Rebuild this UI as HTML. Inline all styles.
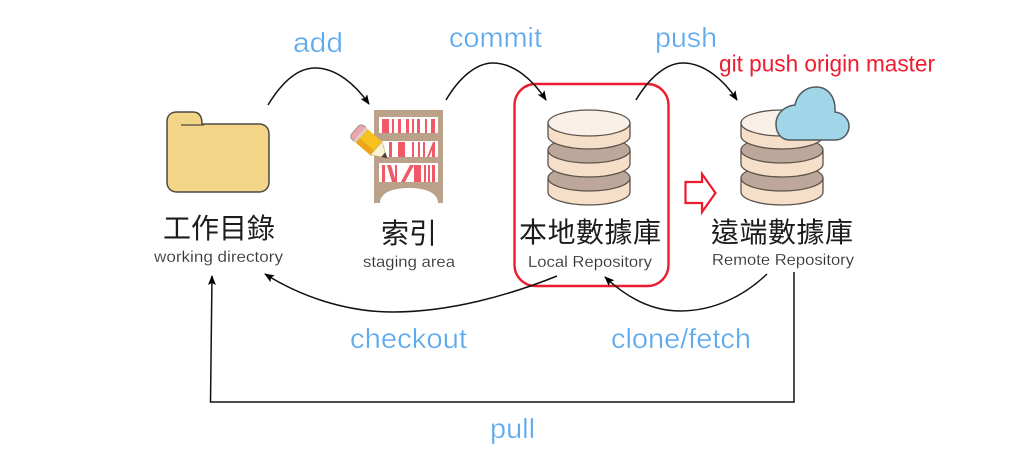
<!DOCTYPE html>
<html><head><meta charset="utf-8">
<style>
html,body{margin:0;padding:0;background:#fff;width:1024px;height:474px;overflow:hidden}
svg{display:block;filter:blur(.35px)}
.b{font-family:"Liberation Sans",sans-serif;font-size:28px;fill:#5eaaee;stroke:#fff;stroke-width:.35px}
.c{font-family:"Liberation Sans","Noto Sans CJK TC",sans-serif;font-size:28px;fill:#1c1c1c}
.s{font-family:"Liberation Sans",sans-serif;font-size:16px;fill:#333;stroke:#fff;stroke-width:.15px}
</style></head><body>
<svg width="1024" height="474" viewBox="0 0 1024 474" xmlns="http://www.w3.org/2000/svg">
<defs>
<marker id="a" markerWidth="12" markerHeight="10" refX="9" refY="4" orient="auto" markerUnits="userSpaceOnUse"><path d="M0 0L10 4L0 8L2 4Z" fill="#000"/></marker>
<g id="db" stroke="#5c524b" stroke-width="1.3">
<path d="M0 70V83C0 90 18 96 41 96S82 90 82 83V70Z" fill="#f5dfc9"/>
<ellipse cx="41" cy="69" rx="41" ry="13" fill="#bda79b"/>
<path d="M0 42V55C0 62 18 68 41 68S82 62 82 55V42Z" fill="#f5dfc9"/>
<ellipse cx="41" cy="41" rx="41" ry="13" fill="#bda79b"/>
<path d="M0 14V27C0 34 18 40 41 40S82 34 82 27V14Z" fill="#f5dfc9"/>
<ellipse cx="41" cy="14" rx="41" ry="13" fill="#f9f0e8"/>
</g>
</defs>

<!-- folder -->
<path d="M167 122C167 115 171 112 177 112H193C199 112 202 116 202 124H259C265 124 269 128 269 134V182C269 188 265 192 259 192H177C171 192 167 188 167 182Z" fill="#f3d587" stroke="#4e4a42" stroke-width="1.5"/>
<path d="M181 125H204" stroke="#4e4a42" stroke-width="1.3" fill="none"/>

<!-- bookshelf -->
<path d="M374 110H443V203H438C438 193 426 188 409 188C392 188 380 193 380 203H374Z" fill="#bba08a"/>
<rect x="379" y="117" width="59" height="16" fill="#fff"/>
<rect x="379" y="141" width="59" height="16" fill="#fff"/>
<rect x="379" y="163" width="59" height="19" fill="#fff"/>
<g fill="#ef5a66">
<rect x="382" y="119" width="7" height="14"/><rect x="392" y="119" width="2" height="14"/><rect x="398" y="119" width="3" height="14"/><rect x="406" y="119" width="3" height="14"/><rect x="412" y="119" width="2" height="14"/><rect x="417" y="119" width="3" height="14"/><rect x="425" y="119" width="2" height="14"/><rect x="431" y="119" width="4" height="14"/>
<rect x="389" y="142" width="3" height="15"/><rect x="398" y="142" width="7" height="15"/><rect x="412" y="142" width="2" height="15"/><rect x="418" y="142" width="2" height="15"/><rect x="423" y="142" width="2" height="15"/><path d="M427 157L433 142H435V157H432V150L429 157Z"/>
<rect x="382" y="165" width="3" height="17"/><path d="M387 165H391L396 182H392Z"/><rect x="395" y="165" width="2" height="17"/><path d="M401 182L410 165H414L405 182Z"/><rect x="414" y="165" width="7" height="17"/><rect x="424" y="165" width="2" height="17"/><rect x="428" y="165" width="2" height="17"/><rect x="432" y="165" width="3" height="17"/>
</g>
<!-- pencil -->
<g transform="translate(355 130) rotate(41)">
<rect x="0" y="-9" width="10" height="18" rx="4" fill="#eda3a9" stroke="#9f9595" stroke-width="1"/>
<rect x="6" y="-9" width="3" height="18" fill="#d8cfc8"/>
<rect x="9" y="-9" width="19" height="18" fill="#f7c21e"/>
<rect x="9" y="3" width="19" height="6" fill="#eda51a"/>
<path d="M28 -9L42 0L28 9Z" fill="#faf2d2" stroke="#bba66a" stroke-width=".6"/>
<path d="M37.500 -3L43 0L37.500 3Z" fill="#4a3a33"/>
</g>

<!-- databases -->
<use href="#db" x="548" y="109"/>
<use href="#db" x="741" y="109"/>

<!-- cloud -->
<path d="M790 140C781 140 776 133 776 124C776 114 784 106 795 105C797 94 806 87 816 87C828 87 836 97 835 112C843 113 849 119 849 126C849 134 843 140 835 140Z" fill="#a1d6e9" stroke="#4e5a5f" stroke-width="1.5"/>

<!-- red highlight -->
<rect x="514.500" y="84" width="154" height="202" rx="21" fill="none" stroke="#ec1c2e" stroke-width="2.4"/>
<path d="M685.500 182H702V174L715.500 193L702 212V203H685.500Z" fill="#fff" stroke="#ec1c2e" stroke-width="2.2"/>

<!-- connectors -->
<g fill="none" stroke="#111" stroke-width="1.5">
<path d="M268 105C282 82 298 68 315 68C336 68 355 84 369 104" marker-end="url(#a)"/>
<path d="M446 100C459 78 476 63 493 63C514 63 533 80 546 100" marker-end="url(#a)"/>
<path d="M636 100C649 78 666 63 683 63C704 63 724 80 737 100" marker-end="url(#a)"/>
<path d="M557 276C510 295 450 312 393 312C345 312 300 296 265 274" marker-end="url(#a)"/>
<path d="M767 274C745 295 715 311 680 311C650 311 625 296 605 277" marker-end="url(#a)"/>
<path d="M794 272V402H210.500L212 276" marker-end="url(#a)"/>
</g>

<!-- blue labels -->
<text class="b" x="293" y="52" textLength="50" lengthAdjust="spacingAndGlyphs">add</text>
<text class="b" x="449" y="47" textLength="93" lengthAdjust="spacingAndGlyphs">commit</text>
<text class="b" x="655" y="47" textLength="62" lengthAdjust="spacingAndGlyphs">push</text>
<text class="b" x="350" y="348" textLength="117" lengthAdjust="spacingAndGlyphs">checkout</text>
<text class="b" x="611" y="348" textLength="140" lengthAdjust="spacingAndGlyphs">clone/fetch</text>
<text class="b" x="490" y="438" textLength="45" lengthAdjust="spacingAndGlyphs">pull</text>

<text x="719" y="71.500" font-family="'Liberation Sans',sans-serif" font-size="23" fill="#ee1c2e" textLength="216" lengthAdjust="spacingAndGlyphs">git push origin master</text>

<!-- CJK -->
<text class="c" x="163" y="238" textLength="112">工作目錄</text>
<text class="c" x="381" y="243" textLength="56">索引</text>
<text class="c" x="519" y="242" textLength="142">本地數據庫</text>
<text class="c" x="711" y="242" textLength="142">遠端數據庫</text>

<text class="s" x="154" y="262" textLength="129" lengthAdjust="spacingAndGlyphs">working directory</text>
<text class="s" x="363" y="267" textLength="92" lengthAdjust="spacingAndGlyphs">staging area</text>
<text class="s" x="528" y="267" textLength="124" lengthAdjust="spacingAndGlyphs">Local Repository</text>
<text class="s" x="712" y="265" textLength="142" lengthAdjust="spacingAndGlyphs">Remote Repository</text>
</svg>
</body></html>
